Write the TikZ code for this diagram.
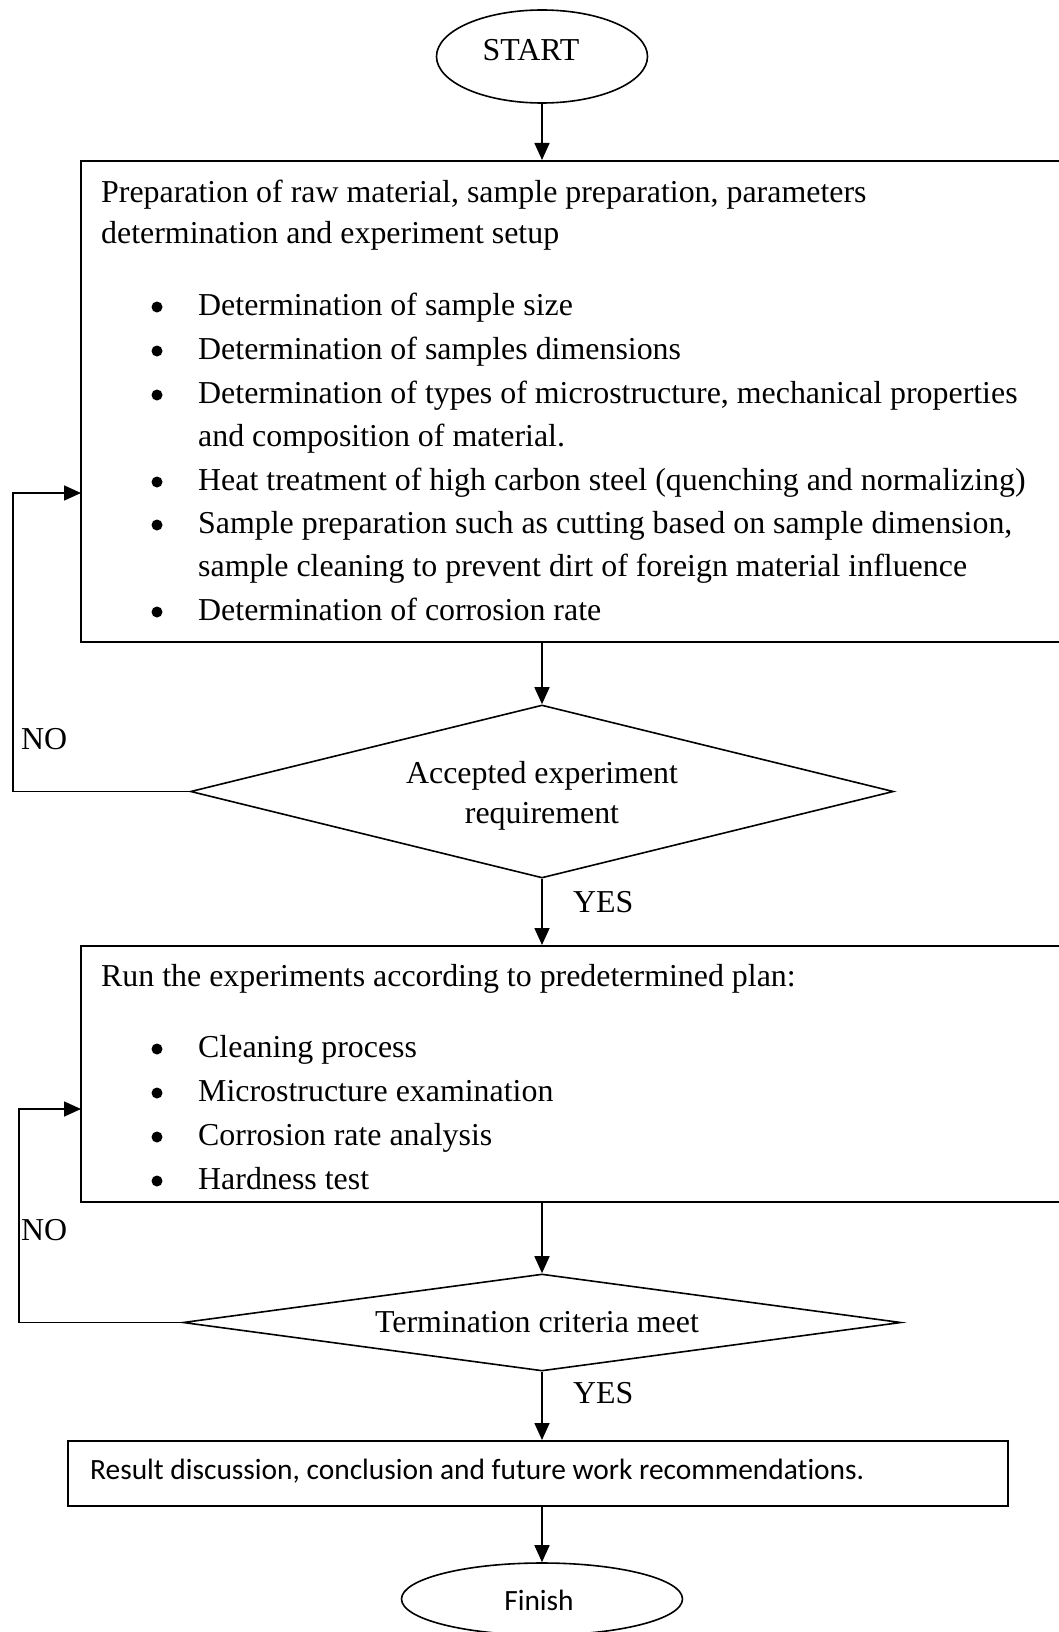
\documentclass[tikz,border=0pt]{standalone}
\usepackage{fontspec}
\setmainfont{Liberation Serif}
\newfontfamily\calib[Ligatures=NoCommon]{Carlito}
\usetikzlibrary{shapes.geometric,arrows.meta}
\newcommand\tnrfont{\fontsize{31.9}{40}\selectfont}
\newcommand\calfont{\calib\fontsize{29.4}{34}\selectfont}
\tikzset{
  box/.style={draw, line width=2pt, rectangle, inner sep=0pt},
  shp/.style={draw, line width=1.6pt, inner sep=0pt},
  txt/.style={anchor=base west, inner sep=0pt, font=\tnrfont},
  ctxt/.style={anchor=base, inner sep=0pt, font=\tnrfont},
  bul/.style={circle, fill, inner sep=0pt, minimum size=11pt},
  arr/.style={line width=1.6pt, -{Triangle[width=15pt,length=17pt]}},
}
\begin{document}
\begin{tikzpicture}[x=1pt,y=-1pt]
\useasboundingbox (0,0) rectangle (1059,1632);
\clip (0,0) rectangle (1059,1632);
% shapes
\node[shp, ellipse, minimum width=211pt, minimum height=93pt] (st) at (542,56.5) {};
\node[ctxt] (sttxt) at (531,61) {START};
\node[box, minimum width=1000pt, minimum height=481pt] (b1) at (581,401.5) {};
\node[shp, diamond, minimum width=703pt, minimum height=173pt] (d1) at (542,791.5) {};
\node[box, minimum width=1000pt, minimum height=256pt] (b2) at (581,1074) {};
\node[shp, diamond, minimum width=718pt, minimum height=97pt] (d2) at (542,1322.5) {};
\node[box, minimum width=940pt, minimum height=65pt] (b3) at (538,1473.5) {};
\node[shp, ellipse, minimum width=281pt, minimum height=72pt] (fin) at (542,1599) {};
% box 1 text
\node[txt] (p1) at (101,202) {Preparation of raw material, sample preparation, parameters};
\node[txt] (p2) at (101,243) {determination and experiment setup};
\node[bul] (u1) at (157,307) {};
\node[txt] (t1) at (198,315) {Determination of sample size};
\node[bul] (u2) at (157,351) {};
\node[txt] (t2) at (198,359) {Determination of samples dimensions};
\node[bul] (u3) at (157,395) {};
\node[txt] (t3a) at (198,403) {Determination of types of microstructure, mechanical properties};
\node[txt] (t3b) at (198,446) {and composition of material.};
\node[bul] (u4) at (157,482) {};
\node[txt] (t4) at (198,490) {Heat treatment of high carbon steel (quenching and normalizing)};
\node[bul] (u5) at (157,525) {};
\node[txt] (t5a) at (198,533) {Sample preparation such as cutting based on sample dimension,};
\node[txt] (t5b) at (198,576) {sample cleaning to prevent dirt of foreign material influence};
\node[bul] (u6) at (157,612) {};
\node[txt] (t6) at (198,620) {Determination of corrosion rate};
% diamond 1 text
\node[ctxt] (d1a) at (542,783) {Accepted experiment};
\node[ctxt] (d1b) at (542,823) {requirement};
\node[txt] (no1) at (21,749) {NO};
\node[txt] (yes1) at (573,912) {YES};
% box 2 text
\node[txt] (r0) at (101,986) {Run the experiments according to predetermined plan:};
\node[bul] (v1) at (157,1049) {};
\node[txt] (r1) at (198,1057) {Cleaning process};
\node[bul] (v2) at (157,1093) {};
\node[txt] (r2) at (198,1101) {Microstructure examination};
\node[bul] (v3) at (157,1137) {};
\node[txt] (r3) at (198,1145) {Corrosion rate analysis};
\node[bul] (v4) at (157,1181) {};
\node[txt] (r4) at (198,1189) {Hardness test};
% diamond 2 text
\node[ctxt] (d2a) at (537,1332) {Termination criteria meet};
\node[txt] (no2) at (21,1240) {NO};
\node[txt] (yes2) at (573,1403) {YES};
% box 3 and finish text
\node[anchor=base west, inner sep=0pt, font=\calfont] (res) at (90,1479) {Result discussion, conclusion and future work recommendations.};
\node[anchor=base, inner sep=0pt, font=\calfont] (fintxt) at (539,1610) {Finish};
% connectors
\draw[arr] (st.south) -- (st.south |- b1.north);
\draw[arr] (b1.south -| d1.north) -- (d1.north);
\draw[arr] (d1.south) -- (d1.south |- b2.north);
\draw[arr] (b2.south -| d2.north) -- (d2.north);
\draw[arr] (d2.south) -- (d2.south |- b3.north);
\draw[arr] (b3.south -| fin.north) -- (fin.north);
\coordinate (in1) at (81,493);
\coordinate (l1) at (13,0);
\draw[arr] (d1.west) -- (d1.west -| l1) |- (in1);
\coordinate (in2) at (81,1109);
\coordinate (l2) at (19,0);
\draw[arr] (d2.west) -- (d2.west -| l2) |- (in2);
\end{tikzpicture}
\end{document}
